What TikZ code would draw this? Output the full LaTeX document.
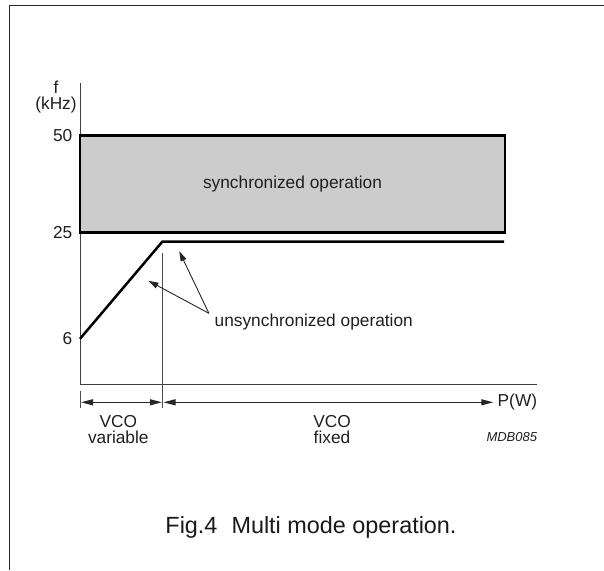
\documentclass[tikz,border=0pt]{standalone}
\usepackage{fontspec}
\setmainfont{Liberation Sans}
\usetikzlibrary{arrows.meta}
\begin{document}
\begin{tikzpicture}[x=1pt,y=-1pt,
  lbl/.style={font=\fontsize{17.3}{19}\selectfont, text=black!88, inner sep=0pt},
  axis/.style={line width=1pt, draw=black!75},
  thick line/.style={line width=2.5pt, draw=black, line join=miter},
  dim/.style={line width=1pt, draw=black!85, {Triangle[length=12pt,width=6pt]}-{Triangle[length=12pt,width=6pt]}},
  note/.style={line width=0.9pt, draw=black!85, -{Triangle[length=10pt,width=6pt]}}]
\useasboundingbox (0,0) rectangle (604,570);
% frame
\draw[line width=1.5pt, black!85] (9.3,570) -- (9.3,5.3) -- (604,5.3);
% axes
\coordinate (ytop) at (80,82.9);
\coordinate (orig) at (80,384.7);
\coordinate (xend) at (536.7,384.7);
\draw[axis] (ytop) -- (orig) -- (xend);
\node[lbl] (f) at (56,87.3) {f};
\node[lbl] (khz) at (56,105) {(kHz)};
\node[lbl, anchor=east] (l50) at (72.5,135.6) {50};
\node[lbl, anchor=east] (l25) at (72.5,232.7) {25};
\node[lbl, anchor=east] (l6) at (72.5,338.8) {6};
% synchronized region
\node[draw, line width=2.5pt, fill=black!20, minimum width=425pt, minimum height=97pt,
      inner sep=0pt, font=\fontsize{17.3}{19}\selectfont, text=black!88] (sync) at (292.5,184.2) {synchronized operation};
% unsynchronized curve
\coordinate (c0) at (80,338.8);
\coordinate (knee) at (162.3,241.7);
\coordinate (c1) at (504,241.7);
\draw[thick line] (c0) -- (knee) -- (c1);
% vertical divider
\coordinate (vtop) at (162.7,253.3);
\coordinate (vbot) at (162.7,408.3);
\draw[line width=1pt, black!70] (vtop) -- (vbot);
\coordinate (ttop) at (80,391);
\coordinate (tbot) at (80,408.3);
\draw[line width=1pt, black!70] (ttop) -- (tbot);
% dimension arrows
\coordinate (a0) at (81,402.3);
\coordinate (a1) at (162,402.3);
\coordinate (a2) at (163.5,402.3);
\coordinate (a3) at (493.3,402.3);
\draw[dim] (a0) -- (a1);
\draw[dim] (a2) -- (a3);
\node[lbl, anchor=west] (pw) at (497.5,402.3) {P(W)};
\node[lbl, align=center, font=\fontsize{17.3}{16.7}\selectfont] (vvar) at (118.3,429.5) {VCO\\variable};
\node[lbl, align=center, font=\fontsize{17.3}{16.7}\selectfont] (vfix) at (332,429.5) {VCO\\fixed};
\node[lbl, anchor=east, font=\fontsize{13}{15}\selectfont\itshape] (mdb) at (537.3,437.3) {MDB085};
% annotation
\node[lbl, anchor=west] (unsync) at (214.5,321.7) {unsynchronized operation};
\coordinate (ao) at (208.9,313.3);
\coordinate (t1) at (148.4,280.8);
\coordinate (t2) at (179.2,251.2);
\draw[note] (ao) -- (t1);
\draw[note] (ao) -- (t2);
% caption
\node[font=\fontsize{23.4}{26}\selectfont, text=black!90, inner sep=0pt] (cap) at (311,527.8) {Fig.4\hspace{0.6em}Multi mode operation.};
\end{tikzpicture}
\end{document}
